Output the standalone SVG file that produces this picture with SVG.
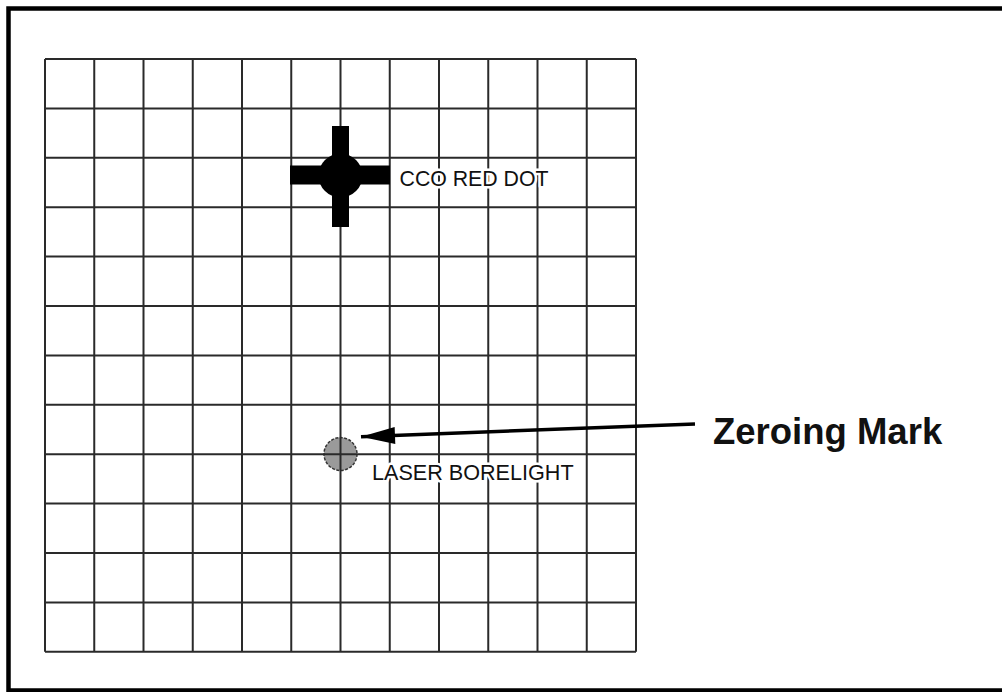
<svg xmlns="http://www.w3.org/2000/svg" width="1002" height="692" viewBox="0 0 1002 692">
<style>
.grid line{stroke:#2a2a2a;stroke-width:2}
.lbl{font-family:"Liberation Sans",Arial,sans-serif;fill:#111}
.halo{stroke:#fff;stroke-width:5;paint-order:stroke;stroke-linejoin:round}
</style>
<defs>
<marker id="ah" markerWidth="10" markerHeight="8" refX="0" refY="4" orient="auto" markerUnits="userSpaceOnUse" viewBox="0 0 10 8" overflow="visible">
<path d="M0,4 L34,-4.5 L34,12.5 Z" fill="#000"/>
</marker>
</defs>
<rect x="0" y="0" width="1002" height="692" fill="#fff"/>
<path d="M1002,8.5 H8.5 V690.5 H1002" fill="none" stroke="#000" stroke-width="4.5"/>
<rect x="8.5" y="689.5" width="994" height="3" fill="#000"/>
<g id="borelight">
<circle cx="340.5" cy="454" r="16.5" fill="#9a9a9a" stroke="#333" stroke-width="1.5" stroke-dasharray="3 1.5"/>
</g>
<g id="grid" class="grid">
<line x1="45" y1="59" x2="45" y2="651.8"/>
<line x1="94.25" y1="59" x2="94.25" y2="651.8"/>
<line x1="143.5" y1="59" x2="143.5" y2="651.8"/>
<line x1="192.75" y1="59" x2="192.75" y2="651.8"/>
<line x1="242" y1="59" x2="242" y2="651.8"/>
<line x1="291.25" y1="59" x2="291.25" y2="651.8"/>
<line x1="340.5" y1="59" x2="340.5" y2="651.8"/>
<line x1="389.75" y1="59" x2="389.75" y2="651.8"/>
<line x1="439" y1="59" x2="439" y2="651.8"/>
<line x1="488.25" y1="59" x2="488.25" y2="651.8"/>
<line x1="537.5" y1="59" x2="537.5" y2="651.8"/>
<line x1="586.75" y1="59" x2="586.75" y2="651.8"/>
<line x1="636" y1="59" x2="636" y2="651.8"/>
<line x1="45" y1="59" x2="636" y2="59"/>
<line x1="45" y1="108.4" x2="636" y2="108.4"/>
<line x1="45" y1="157.8" x2="636" y2="157.8"/>
<line x1="45" y1="207.2" x2="636" y2="207.2"/>
<line x1="45" y1="256.6" x2="636" y2="256.6"/>
<line x1="45" y1="306" x2="636" y2="306"/>
<line x1="45" y1="355.4" x2="636" y2="355.4"/>
<line x1="45" y1="404.8" x2="636" y2="404.8"/>
<line x1="45" y1="454.2" x2="636" y2="454.2"/>
<line x1="45" y1="503.6" x2="636" y2="503.6"/>
<line x1="45" y1="553" x2="636" y2="553"/>
<line x1="45" y1="602.4" x2="636" y2="602.4"/>
<line x1="45" y1="651.8" x2="636" y2="651.8"/>
</g>
<g id="cco-red-dot">
<rect x="332" y="126" width="17" height="101" fill="#000"/>
<rect x="290" y="165.5" width="100" height="19" fill="#000"/>
<circle cx="340.5" cy="175.5" r="22" fill="#000"/>
<text class="lbl halo" x="399.5" y="186" font-size="21.3">CCO RED DOT</text>
</g>
<text class="lbl halo" x="372" y="480" font-size="21.6">LASER BORELIGHT</text>
<g id="connectors">
<line x1="361" y1="436.7" x2="695" y2="424" stroke="#000" stroke-width="3.5" marker-start="url(#ah)"/>
</g>
<g id="zeroing-mark">
<text class="lbl" x="713" y="443.5" font-size="36.5" font-weight="bold" fill="#000">Zeroing Mark</text>
</g>
</svg>
